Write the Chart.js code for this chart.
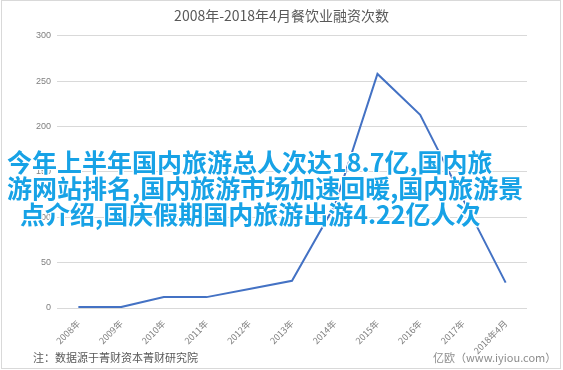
<!DOCTYPE html>
<html>
<head>
<meta charset="utf-8">
<script src="https://cdn.jsdelivr.net/npm/chart.js@4"></script>
<style>
  html, body { margin: 0; padding: 0; background: #fff; }
  #wrap { position: relative; width: 563px; height: 370px; overflow: hidden; }
  #frame { position: absolute; left: 1px; top: 0px; width: 558px; height: 367px; border: 1px solid #d9d9d9; }
  .note { position: absolute; font-family: "Noto Sans CJK SC", sans-serif; font-size: 11px; line-height: 14px; white-space: nowrap; }
  #src { left: 33px; top: 350px; color: #595959; }
  #brand { left: 433px; top: 350px; color: #8c8c8c; }
  #overlay { position: absolute; left: 0; top: 148px; font-family: "Noto Sans CJK SC", sans-serif;
    font-weight: 700; font-size: 25px; line-height: 26px; color: #17a2e6; white-space: nowrap;
    text-shadow: 1px 0 #fff, -1px 0 #fff, 0 1px #fff, 0 -1px #fff, 1px 1px #fff, -1px -1px #fff, 1px -1px #fff, -1px 1px #fff; }
</style>
</head>
<body>
<div id="wrap">
  <canvas id="chart" width="563" height="370"></canvas>
  <div id="frame"></div>
  <div class="note" id="src">注：数据源于菁财资本菁财研究院</div>
  <div class="note" id="brand">亿欧（www.iyiou.com）</div>
  <div id="overlay">
    <div style="margin-left:7px">今年上半年国内旅游总人次达18.7亿,国内旅</div>
    <div style="margin-left:7px">游网站排名,国内旅游市场加速回暖,国内旅游景</div>
    <div style="margin-left:20px">点介绍,国庆假期国内旅游出游4.22亿人次</div>
  </div>
</div>
<script>
const years = ["2008年", "2009年", "2010年", "2011年", "2012年", "2013年", "2014年", "2015年", "2016年", "2017年", "2018年4月"];
const counts = [1, 1, 12, 12, 21, 30, 113, 258, 213, 120, 28];
const chartTitle = "2008年-2018年4月餐饮业融资次数";

new Chart(document.getElementById("chart"), {
  type: "line",
  data: {
    labels: years,
    datasets: [{
      data: counts,
      borderColor: "#4472c4",
      borderWidth: 2,
      pointRadius: 0,
      tension: 0
    }]
  },
  options: {
    responsive: false,
    animation: false,
    layout: { padding: 0 },
    plugins: {
      legend: { display: false },
      tooltip: { enabled: false },
      title: {
        display: true,
        text: chartTitle,
        color: "#595959",
        font: { family: "Noto Sans CJK SC", size: 14, weight: "normal" },
        padding: { top: 7, bottom: 12 }
      }
    },
    scales: {
      x: {
        offset: true,
        grid: { display: false },
        border: { display: false },
        ticks: {
          color: "#7f7f7f",
          font: { family: "Noto Sans CJK SC", size: 9 },
          minRotation: 45,
          maxRotation: 45,
          padding: 2
        },
        afterFit: s => { s.height = 62; }
      },
      y: {
        min: 0,
        max: 300,
        grid: { color: "#d9d9d9", drawTicks: false },
        border: { display: false },
        ticks: {
          stepSize: 50,
          color: "#7f7f7f",
          font: { family: "Liberation Sans", size: 9 },
          padding: 6
        },
        afterFit: s => { s.width = 57; }
      },
      // empty right-hand axis, only keeps the plot area clear of the right edge
      yRight: {
        position: "right",
        min: 0,
        max: 300,
        grid: { display: false },
        border: { display: false },
        ticks: { display: false },
        afterFit: s => { s.width = 36; }
      }
    }
  }
});
</script>
</body>
</html>
